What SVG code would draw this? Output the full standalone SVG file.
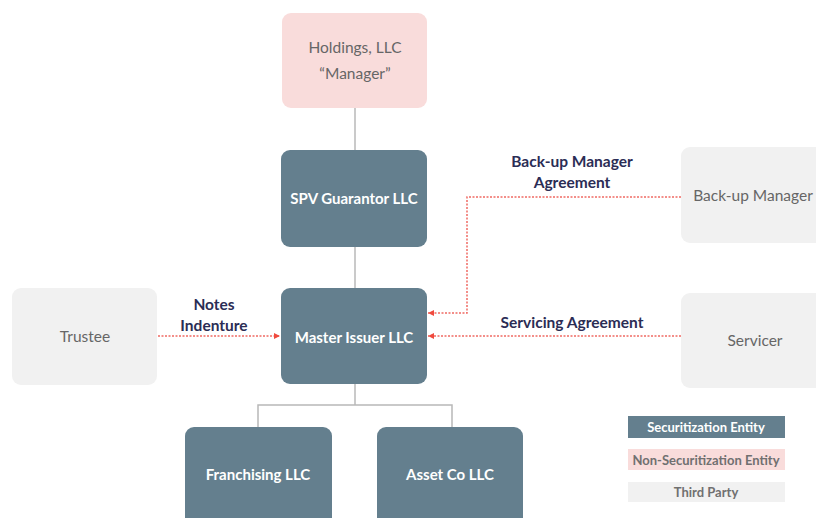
<svg xmlns="http://www.w3.org/2000/svg" width="816" height="518" viewBox="0 0 816 518">
<style>
.sec{fill:#647f8e}
.non{fill:#f9dcdb}
.tp{fill:#f1f1f1}
.t{font-family:Lato,"Liberation Sans",sans-serif;font-size:15px;text-anchor:middle;dominant-baseline:central}
.w{fill:#ffffff;font-weight:bold}
.g{fill:#666666;font-size:15.5px}
.lbl{fill:#2b2d55;font-weight:bold;font-size:15.5px}
.lg{font-family:Lato,"Liberation Sans",sans-serif;font-size:13px;text-anchor:middle;dominant-baseline:central;font-weight:bold}
.solid{stroke:#b8b8b8;stroke-width:1.5;fill:none}
.dot{stroke:#f06a63;stroke-width:1.5;stroke-dasharray:2 1.5;fill:none}
</style>
<defs>
<marker id="ah" viewBox="0 0 10 10" refX="10" refY="5" markerWidth="6" markerHeight="6" orient="auto" markerUnits="userSpaceOnUse">
<path d="M0,0 L10,5 L0,10 z" fill="#f04a3e"/>
</marker>
</defs>
<rect width="816" height="518" fill="#ffffff"/>
<g id="connectors">
<line class="solid" x1="355" y1="108" x2="355" y2="150"/>
<line class="solid" x1="355" y1="247" x2="355" y2="288"/>
<polyline class="solid" points="355,384 355,405"/>
<polyline class="solid" points="258,427 258,405 452,405 452,427"/>
<line class="dot" x1="158" y1="336" x2="280" y2="336" marker-end="url(#ah)"/>
<polyline class="dot" points="681,197 467,197 467,313 428,313" marker-end="url(#ah)"/>
<line class="dot" x1="681" y1="336" x2="428" y2="336" marker-end="url(#ah)"/>
</g>
<g id="holdings">
<rect class="non" x="282" y="13" width="145" height="95" rx="9"/>
<text class="t g" x="355" y="47">Holdings, LLC</text>
<text class="t g" x="355" y="73">“Manager”</text>
</g>
<g id="spv">
<rect class="sec" x="281" y="150" width="146" height="97" rx="9"/>
<text class="t w" x="354" y="198">SPV Guarantor LLC</text>
</g>
<g id="master">
<rect class="sec" x="281" y="288" width="146" height="96" rx="9"/>
<text class="t w" x="354" y="337">Master Issuer LLC</text>
</g>
<g id="franchising">
<rect class="sec" x="185" y="427" width="147" height="100" rx="9"/>
<text class="t w" x="258" y="474">Franchising LLC</text>
</g>
<g id="assetco">
<rect class="sec" x="377" y="427" width="146" height="100" rx="9"/>
<text class="t w" x="450" y="474">Asset Co LLC</text>
</g>
<g id="trustee">
<rect class="tp" x="12" y="288" width="145" height="97" rx="9"/>
<text class="t g" x="85" y="336">Trustee</text>
</g>
<g id="backup">
<rect class="tp" x="681" y="147" width="150" height="96" rx="9"/>
<text class="t g" x="753" y="195">Back-up Manager</text>
</g>
<g id="servicer">
<rect class="tp" x="681" y="293" width="150" height="95" rx="9"/>
<text class="t g" x="755" y="340">Servicer</text>
</g>
<g id="labels">
<text class="t lbl" x="572" y="161">Back-up Manager</text>
<text class="t lbl" x="572" y="182">Agreement</text>
<text class="t lbl" x="572" y="322">Servicing Agreement</text>
<text class="t lbl" x="214" y="304">Notes</text>
<text class="t lbl" x="214" y="325">Indenture</text>
</g>
<g id="legend">
<rect class="sec" x="628" y="416" width="157" height="22"/>
<text class="lg" x="706" y="427" fill="#ffffff">Securitization Entity</text>
<rect class="non" x="628" y="449" width="157" height="21"/>
<text class="lg" x="706" y="460" fill="#707070">Non-Securitization Entity</text>
<rect class="tp" x="628" y="482" width="157" height="20"/>
<text class="lg" x="706" y="492" fill="#707070">Third Party</text>
</g>
</svg>
